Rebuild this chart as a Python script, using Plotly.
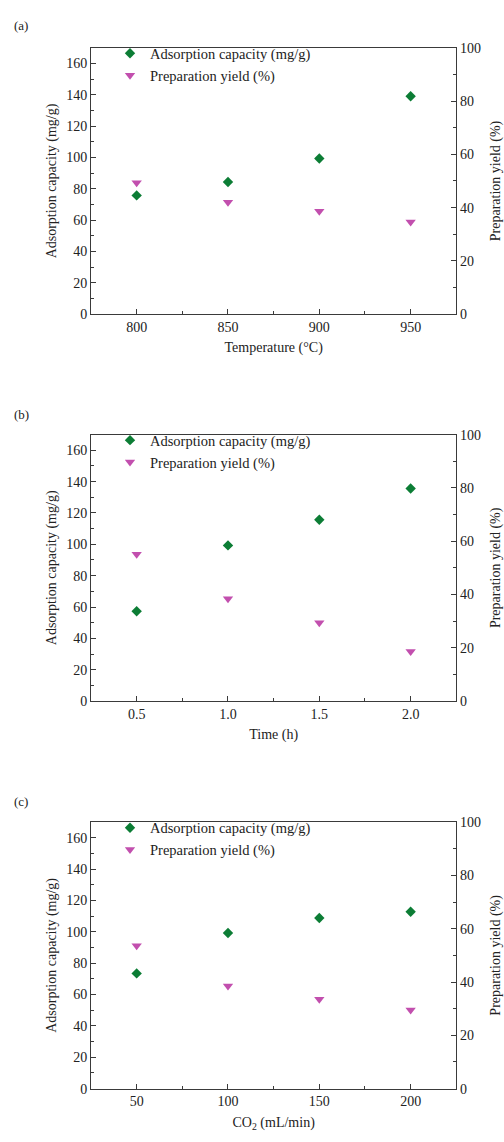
import plotly.graph_objects as go

# Panel (a)
temp_x = [800, 850, 900, 950]
temp_ads = [75.8, 84.4, 99.3, 139.1]
temp_yield = [49.3, 42.0, 38.6, 34.6]
# Panel (b)
time_x = [0.5, 1.0, 1.5, 2.0]
time_ads = [57.3, 99.3, 115.7, 135.6]
time_yield = [55.1, 38.4, 29.4, 18.6]
# Panel (c)
co2_x = [50, 100, 150, 200]
co2_ads = [73.5, 99.3, 108.8, 112.8]
co2_yield = [53.6, 38.5, 33.5, 29.5]

x_titles = ["Temperature (°C)", "Time (h)", "CO<sub>2</sub> (mL/min)"]
x_ranges = [[775, 975], [0.25, 2.25], [25, 225]]
x_dticks = [50, 0.5, 50]
x_formats = ["", ".1f", ""]
panel_labels = ["(a)", "(b)", "(c)"]

GREEN = "#0c7d35"
MAGENTA = "#c24fae"
AXC = "#3a3a3a"
FONT = "Liberation Serif"

W, H = 504, 1142
x_dom = [91 / W, 456.3 / W]
tops = [41.3, 433.3, 826]
bottoms = [311.3, 703.3, 1096]

fig = go.Figure()
data = [(temp_x, temp_ads, temp_yield), (time_x, time_ads, time_yield), (co2_x, co2_ads, co2_yield)]
layout = {}
for i, (xs, ads, yl) in enumerate(data):
    xa = "x" if i == 0 else f"x{i+1}"
    ya = f"y{2*i+1}" if i > 0 else "y"
    yb = f"y{2*i+2}"
    leg = "legend" if i == 0 else f"legend{i+1}"
    fig.add_trace(go.Scatter(x=xs, y=ads, mode="markers", name="Adsorption capacity (mg/g)",
                             marker=dict(symbol="diamond", size=8, color=GREEN),
                             xaxis=xa, yaxis=ya, legend=leg))
    fig.add_trace(go.Scatter(x=xs, y=yl, mode="markers", name="Preparation yield (%)",
                             marker=dict(symbol="triangle-down", size=9, color=MAGENTA),
                             xaxis=xa, yaxis=yb, legend=leg))
    ydom = [1 - bottoms[i] / H, 1 - tops[i] / H]
    xkey = "xaxis" if i == 0 else f"xaxis{i+1}"
    ykey = "yaxis" if i == 0 else f"yaxis{2*i+1}"
    y2key = f"yaxis{2*i+2}"
    yname = "y" if i == 0 else f"y{2*i+1}"
    layout[xkey] = dict(domain=x_dom, anchor=yname, range=x_ranges[i], dtick=x_dticks[i],
                        tick0=x_ranges[i][0] + (x_dticks[i] / 2), tickformat=x_formats[i],
                        ticks="inside", ticklen=5, tickcolor=AXC, showline=True, linecolor=AXC,
                        linewidth=1, mirror=True, showgrid=False, zeroline=False,
                        minor=dict(ticks="inside", ticklen=3, dtick=x_dticks[i] / 2, tickcolor=AXC),
                        tickfont=dict(family=FONT, size=14, color="#222"),
                        title=dict(text=x_titles[i], font=dict(family=FONT, size=14, color="#222"), standoff=8))
    layout[ykey] = dict(domain=ydom, anchor=xa, range=[0, 170], dtick=20,
                        ticks="inside", ticklen=5, tickcolor=AXC, showline=True, linecolor=AXC,
                        linewidth=1, mirror=True, showgrid=False, zeroline=False,
                        minor=dict(ticks="inside", ticklen=3, dtick=10, tickcolor=AXC),
                        tickfont=dict(family=FONT, size=14, color="#222"),
                        title=dict(text="Adsorption capacity (mg/g)", font=dict(family=FONT, size=14, color="#222"), standoff=6))
    layout[y2key] = dict(domain=ydom, anchor=xa, overlaying=yname, side="right", range=[0, 100], dtick=20,
                         ticks="inside", ticklen=5, tickcolor=AXC, showline=True, linecolor=AXC,
                         linewidth=1, showgrid=False, zeroline=False,
                         minor=dict(ticks="inside", ticklen=3, dtick=10, tickcolor=AXC),
                         tickfont=dict(family=FONT, size=14, color="#222"),
                         title=dict(text="Preparation yield (%)", font=dict(family=FONT, size=14, color="#222"), standoff=10))
    legkey = "legend" if i == 0 else f"legend{i+1}"
    layout[legkey] = dict(x=110 / W, xanchor="left", y=1 - (tops[i] - 10.5) / H, yanchor="top",
                          bgcolor="rgba(0,0,0,0)", font=dict(family=FONT, size=14.5, color="#222"),
                          tracegroupgap=0)

annotations = []
label_y = [19, 413, 805]
for i in range(3):
    annotations.append(dict(text=panel_labels[i], x=12 / W, y=1 - label_y[i] / H, xref="paper", yref="paper",
                            xanchor="left", yanchor="middle", showarrow=False,
                            font=dict(family=FONT, size=13, color="#222")))

fig.update_layout(width=W, height=H, margin=dict(l=0, r=0, t=0, b=0),
                  paper_bgcolor="white", plot_bgcolor="white", showlegend=True,
                  annotations=annotations, **layout)
fig.write_html("out.html")
